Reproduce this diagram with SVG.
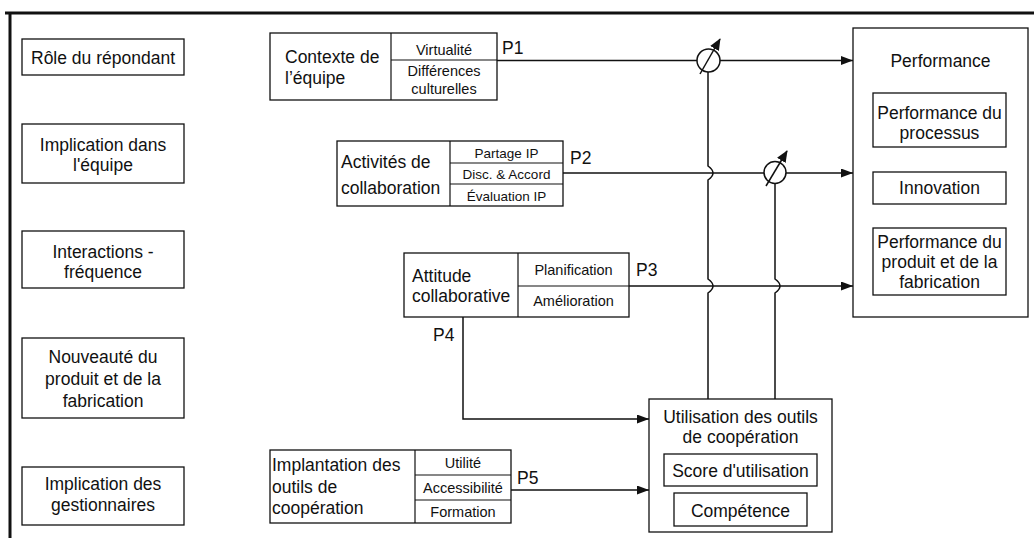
<svg xmlns="http://www.w3.org/2000/svg" width="1034" height="538" viewBox="0 0 1034 538">
  <style>
    .box { fill: #fff; stroke: #111; stroke-width: 1.3; }
    .div { fill: none; stroke: #111; stroke-width: 1.2; }
    .t { font-family: "Liberation Sans", Arial, sans-serif; font-size: 17.5px; fill: #111; }
    .s { font-size: 14.5px; }
    .xs { font-size: 13.5px; }
    .c { text-anchor: middle; }
    .conn { fill: none; stroke: #111; stroke-width: 1.5; }
    .mod { fill: #fff; stroke: #111; stroke-width: 1.5; }
    .frame { fill: none; stroke: #111; stroke-width: 3; }
  </style>
  <defs>
    <marker id="arrow" markerUnits="userSpaceOnUse" markerWidth="13" markerHeight="10" refX="12" refY="4.5" orient="auto">
      <path d="M0,0 L12,4.5 L0,9 z" fill="#111"/>
    </marker>
    <marker id="arrowMod" markerUnits="userSpaceOnUse" markerWidth="13" markerHeight="12" refX="11" refY="5" orient="auto">
      <path d="M0,0 L12,5 L0,10 z" fill="#111"/>
    </marker>
  </defs>

  <rect width="1034" height="538" fill="#fff"/>

  <!-- outer frame -->
  <path class="frame" d="M5,13 H1034 M10,12 V538"/>

  <!-- control variables -->
  <g id="role">
    <rect class="box" x="22" y="39" width="162" height="36"/>
    <text class="t c" x="103" y="64">Rôle du répondant</text>
  </g>
  <g id="implication-equipe">
    <rect class="box" x="22" y="124" width="162" height="59"/>
    <text class="t c" x="103" y="151">Implication dans</text>
    <text class="t c" x="103" y="171">l'équipe</text>
  </g>
  <g id="interactions">
    <rect class="box" x="22" y="231" width="162" height="57"/>
    <text class="t c" x="103" y="258">Interactions -</text>
    <text class="t c" x="103" y="278">fréquence</text>
  </g>
  <g id="nouveaute">
    <rect class="box" x="22" y="338" width="162" height="80"/>
    <text class="t c" x="103" y="363">Nouveauté du</text>
    <text class="t c" x="103" y="385">produit et de la</text>
    <text class="t c" x="103" y="407">fabrication</text>
  </g>
  <g id="implication-gestionnaires">
    <rect class="box" x="22" y="467" width="162" height="58"/>
    <text class="t c" x="103" y="490">Implication des</text>
    <text class="t c" x="103" y="511">gestionnaires</text>
  </g>

  <!-- connectors -->
  <g id="connectors">
    <!-- P1 -->
    <path class="conn" d="M497,60.5 H853" marker-end="url(#arrow)"/>
    <!-- P2 -->
    <path class="conn" d="M563,173 H853" marker-end="url(#arrow)"/>
    <!-- P3 -->
    <path class="conn" d="M629,286 H853" marker-end="url(#arrow)"/>
    <!-- P4 -->
    <path class="conn" d="M463,317 V419 H649" marker-end="url(#arrow)"/>
    <!-- P5 -->
    <path class="conn" d="M511,490 H649" marker-end="url(#arrow)"/>
    <!-- moderator stems with line jumps -->
    <path class="conn" d="M708,72 V166 Q718,173 708,180 V279 Q718,286 708,293 V399"/>
    <path class="conn" d="M775,184 V279 Q785,286 775,293 V399"/>
    <!-- moderators -->
    <circle class="mod" cx="708.5" cy="60.5" r="11.5"/>
    <path class="conn" d="M700,74 L720,39" marker-end="url(#arrowMod)"/>
    <circle class="mod" cx="775" cy="172.5" r="11"/>
    <path class="conn" d="M766,186 L787,151" marker-end="url(#arrowMod)"/>
    <!-- path labels -->
    <text class="t" x="502" y="54">P1</text>
    <text class="t" x="570" y="164">P2</text>
    <text class="t" x="636" y="276">P3</text>
    <text class="t" x="433" y="341">P4</text>
    <text class="t" x="517" y="484">P5</text>
  </g>

  <g id="contexte">
    <rect class="box" x="270" y="33" width="227" height="67"/>
    <path class="div" d="M391,33 V100 M391,60 H497"/>
    <text class="t" x="285" y="63">Contexte de</text>
    <text class="t" x="285" y="84">l’équipe</text>
    <text class="t s c" x="444" y="55">Virtualité</text>
    <text class="t s c" x="444" y="76">Différences</text>
    <text class="t s c" x="444" y="94">culturelles</text>
  </g>

  <g id="activites">
    <rect class="box" x="337" y="141" width="226" height="65"/>
    <path class="div" d="M450,141 V206 M450,163 H563 M450,184 H563"/>
    <text class="t" x="341" y="168">Activités de</text>
    <text class="t" x="341" y="194">collaboration</text>
    <text class="t xs c" x="506.5" y="158">Partage IP</text>
    <text class="t xs c" x="506.5" y="179">Disc. &amp; Accord</text>
    <text class="t xs c" x="506.5" y="201">Évaluation IP</text>
  </g>

  <g id="attitude">
    <rect class="box" x="404" y="253" width="225" height="64"/>
    <path class="div" d="M518,253 V317 M518,286 H629"/>
    <text class="t" x="412" y="282">Attitude</text>
    <text class="t" x="412" y="302">collaborative</text>
    <text class="t s c" x="573.5" y="275">Planification</text>
    <text class="t s c" x="573.5" y="306">Amélioration</text>
  </g>

  <g id="implantation">
    <rect class="box" x="270" y="450" width="241" height="73"/>
    <path class="div" d="M415,450 V523 M415,475 H511 M415,500 H511"/>
    <text class="t" x="272" y="471">Implantation des</text>
    <text class="t" x="272" y="493">outils de</text>
    <text class="t" x="272" y="514">coopération</text>
    <text class="t s c" x="463" y="468">Utilité</text>
    <text class="t s c" x="463" y="493">Accessibilité</text>
    <text class="t s c" x="463" y="517">Formation</text>
  </g>

  <g id="utilisation">
    <rect class="box" x="649" y="399" width="183" height="133"/>
    <text class="t c" x="740.5" y="423">Utilisation des outils</text>
    <text class="t c" x="740.5" y="443">de coopération</text>
    <rect class="box" x="664" y="454" width="153" height="32"/>
    <text class="t c" x="740.5" y="477">Score d'utilisation</text>
    <rect class="box" x="674" y="493" width="133" height="33"/>
    <text class="t c" x="740.5" y="517">Compétence</text>
  </g>

  <g id="performance">
    <rect class="box" x="853" y="28" width="175" height="289"/>
    <text class="t c" x="940.5" y="67">Performance</text>
    <rect class="box" x="873" y="93" width="133" height="54"/>
    <text class="t c" x="939.5" y="119">Performance du</text>
    <text class="t c" x="939.5" y="139">processus</text>
    <rect class="box" x="873" y="172" width="133" height="32"/>
    <text class="t c" x="939.5" y="194">Innovation</text>
    <rect class="box" x="873" y="228" width="133" height="67"/>
    <text class="t c" x="939.5" y="248">Performance du</text>
    <text class="t c" x="939.5" y="268">produit et de la</text>
    <text class="t c" x="939.5" y="288">fabrication</text>
  </g>
</svg>
